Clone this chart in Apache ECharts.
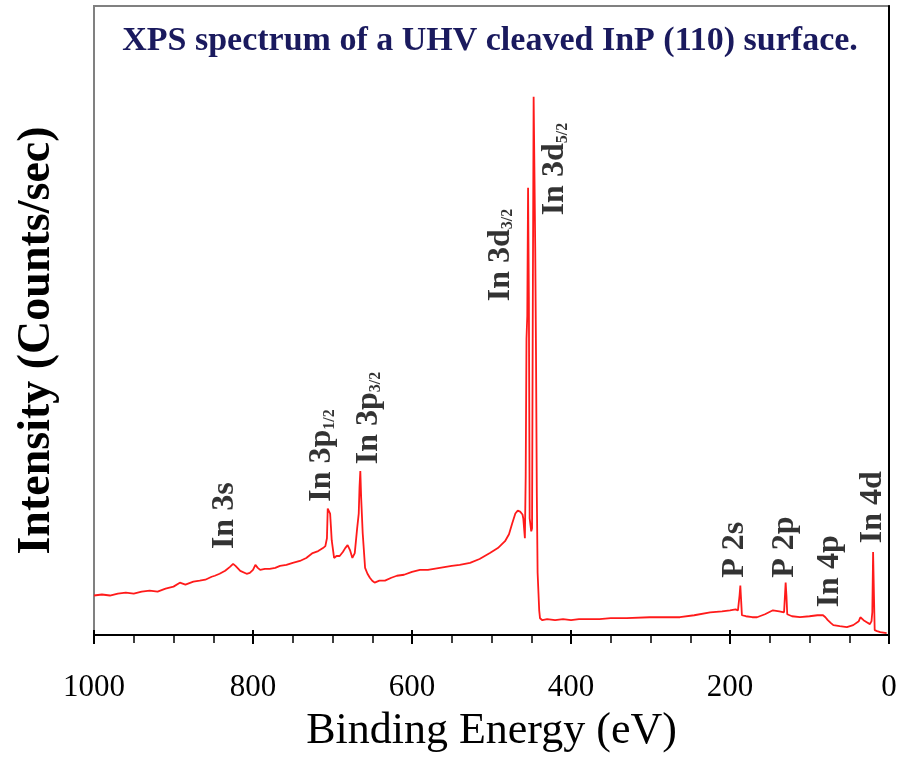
<!DOCTYPE html>
<html>
<head>
<meta charset="utf-8">
<script src="https://cdn.jsdelivr.net/npm/echarts@6/dist/echarts.min.js"></script>
<style>html,body{margin:0;padding:0;background:#fff;}#main{width:900px;height:758px;}</style>
</head>
<body>
<div id="main"></div>
<script>
// Binding energy (eV) and intensity (arbitrary units)
const energy = [1000,990,980,970,960,950,940,930,920,910,900,892,885,875,867,860,852,848,842,835,829,825,822,820,816,814,808,804,800,797,794,791,785,779,772,766,758,750,741,733,725,718,712,709,707,706,704,703,702,701,698,695,691,687,684,681,678,675,672,669,667,666,665,664,662,659,656,653,650,647,641,634,626,619,610,600,590,580,565,550,540,527,515,502,492,483,478,474,470,467,464,461,460,458,457,456,455,454,453,452,450,449,448,447,446,445,444,443,442,440,439,436,430,420,410,400,390,380,364,350,330,301,280,263,245,225,210,200,193,190,188,187,186,185,180,172,166,156,146,138,132,130,129,128,122,112,100,90,83,80,77,73,70,62,53,45,38,36,32,28,24,22,21,20,19,18,15,11,3];
const intensity = [40,41,40,42,43,42,44,45,44,47,49,53,51,54,55,56,59,60,62,65,69,72,70,68,65,63,62,63,66,71,68,66,67,67,68,70,71,73,75,78,83,85,88,90,98,128,126,123,110,96,78,80,80,84,88,91,86,78,83,108,123,150,166,140,103,68,62,58,55,53,55,55,58,60,61,64,66,66,68,70,71,73,77,83,88,95,102,113,123,126,125,122,118,98,160,300,323,453,343,118,105,108,343,545,470,393,283,143,63,25,17,15,16,15,16,15,16,16,16,17,17,18,18,18,20,23,24,25,26,25,40,50,35,20,19,18,18,21,25,24,23,53,40,21,19,18,19,20,20,18,15,12,10,9,8,10,14,18,15,13,11,14,23,84,43,5,4,3,2];

// Peak annotations: label, energy, intensity at the label's base
const peakNames = ['In 3s','In 3p{s|1/2}','In 3p{s|3/2}','In 3d{s|3/2}','In 3d{s|5/2}','P 2s','P 2p','In 4p','In 4d'];
const peakEnergy = [835,713,655,489,420,194,131,74,20];
const peakBase = [87,135,173,338,425,58,58,28,93];

const xTicks = [0,200,400,600,800,1000];

const chart = echarts.init(document.getElementById('main'), null, {renderer:'canvas'});
const serif = '"Liberation Serif", "DejaVu Serif", serif';

const line = energy.map((e,i)=>[e,intensity[i]]);
const labels = peakNames.map((n,i)=>({name:n, value:[peakEnergy[i], peakBase[i]]}));

chart.setOption({
  animation:false,
  backgroundColor:'#fff',
  title:{
    text:'XPS spectrum of a UHV cleaved InP (110) surface.',
    left:485, top:19, textAlign:'center',
    textStyle:{fontFamily:serif, fontWeight:'bold', fontSize:34, color:'#1a1a5e'}
  },
  grid:{left:94, right:11, top:6, bottom:115, show:true, borderColor:'#808080', borderWidth:2, backgroundColor:'transparent'},
  xAxis:[{
    type:'value', min:0, max:1000, interval:200, inverse:true,
    axisLine:{show:true, onZero:false, lineStyle:{color:'#000', width:2}},
    axisTick:{show:true, inside:false, length:9, lineStyle:{color:'#000', width:2}},
    minorTick:{show:true, splitNumber:4, length:8, lineStyle:{color:'#000', width:1.5}},
    splitLine:{show:false},
    axisLabel:{margin:37, fontFamily:serif, fontSize:31, color:'#000',
      formatter:v=> xTicks.includes(v) ? String(v) : ''},
    name:'Binding Energy (eV)', nameLocation:'middle', nameGap:74,
    nameTextStyle:{fontFamily:serif, fontSize:44, color:'#000'}
  },{
    type:'value', min:0, max:1000, interval:200, inverse:true, position:'bottom',
    axisLine:{show:false}, axisLabel:{show:false}, splitLine:{show:false},
    axisTick:{show:true, inside:true, length:5, lineStyle:{color:'#000', width:2}}
  }],
  yAxis:{
    type:'value', min:0, max:637,
    axisLine:{show:true, lineStyle:{color:'#000', width:2}},
    axisTick:{show:false}, axisLabel:{show:false}, splitLine:{show:false},
    name:'Intensity (Counts/sec)', nameLocation:'middle', nameGap:34, nameRotate:90,
    nameTextStyle:{fontFamily:serif, fontWeight:'bold', fontSize:46, color:'#000', padding:[0,40,0,0]}
  },
  series:[{
    type:'line', data:line, symbol:'none', xAxisIndex:0,
    lineStyle:{color:'#ff1a1a', width:1.8}, z:3
  },{
    type:'scatter', data:labels, symbolSize:0, xAxisIndex:0, z:4,
    label:{show:true, position:'inside', rotate:90, align:'left', verticalAlign:'middle',
      formatter:'{b}', fontFamily:serif, fontWeight:'bold', fontSize:32, color:'#000',
      rich:{s:{fontFamily:serif, fontWeight:'bold', fontSize:16, color:'#000', verticalAlign:'bottom', padding:[12,0,0,0]}}}
  }]
});
</script>
</body>
</html>
